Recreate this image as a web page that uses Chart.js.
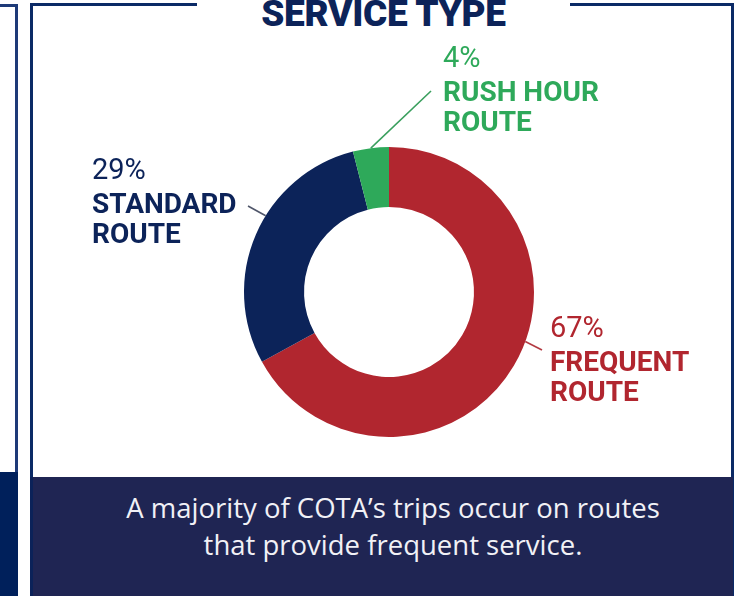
<!DOCTYPE html>
<html>
<head>
<meta charset="utf-8">
<script src="https://cdn.jsdelivr.net/npm/chart.js@4"></script>
<style>
  html, body { margin: 0; padding: 0; background: #fff; }
  #page { position: relative; width: 749px; height: 596px; overflow: hidden; background: #fff; }
  .line { position: absolute; background: #0b2a66; }
  #title {
    position: absolute; left: 197px; width: 373px; top: -8px; text-align: center;
    font-family: Roboto, sans-serif; font-weight: 900; font-size: 37px; color: #0c2359;
    letter-spacing: -0.3px;
  }
  #banner { position: absolute; left: 32px; top: 477px; width: 701px; height: 119px; background: #1f2553; }
  #caption {
    position: absolute; left: 32px; width: 722px; top: 489px; text-align: center;
    font-family: "Open Sans", sans-serif; font-size: 27.5px; line-height: 37px; color: #f1f1f6;
  }
  canvas { position: absolute; left: 0; top: 0; }
</style>
</head>
<body>
<div id="page">
  <!-- left neighbouring panel -->
  <div class="line" style="left:0;top:4px;width:17px;height:3px;background:#1e3a78"></div>
  <div class="line" style="left:15px;top:4px;width:3px;height:470px;background:#1e3a78"></div>
  <div class="line" style="left:0;top:472px;width:18px;height:124px;background:#00205b"></div>
  <!-- main panel frame -->
  <div class="line" style="left:30px;top:3px;width:167px;height:3px"></div>
  <div class="line" style="left:570px;top:3px;width:164px;height:3px"></div>
  <div class="line" style="left:30px;top:3px;width:3px;height:593px"></div>
  <div class="line" style="left:731px;top:3px;width:3px;height:593px"></div>
  <div id="banner"></div>
  <div class="line" style="left:30px;top:477px;width:3px;height:119px;background:#0b2259"></div>
  <div id="title">SERVICE TYPE</div>
  <div id="caption">A majority of COTA’s trips occur on routes<br>that provide frequent service.</div>
  <canvas id="donut" width="749" height="596"></canvas>
</div>
<script>
// service type shares (percent of trips)
const categories = ['FREQUENT ROUTE', 'STANDARD ROUTE', 'RUSH HOUR ROUTE'];
const shares = [67, 29, 4];
const sliceColours = ['#b1262f', '#0c2359', '#2ea95a'];

// label blocks next to each slice: text position, and where the leader line meets the arc
const labelLayout = [
  { x: 550, y: 337, lines: ['FREQUENT', 'ROUTE'], at: 0.456, end: [542, 350], lineColour: '#b33a42' },
  { x: 92, y: 179, lines: ['STANDARD', 'ROUTE'], at: 0.58, end: [248, 206], lineColour: '#50566a' },
  { x: 443, y: 67, lines: ['RUSH HOUR', 'ROUTE'], at: 0.5, end: [431, 91], lineColour: '#3a9f5e' }
];

const calloutPlugin = {
  id: 'callouts',
  afterDraw(chart) {
    const ctx = chart.ctx;
    const arcs = chart.getDatasetMeta(0).data;
    arcs.forEach((arc, i) => {
      const p = arc.getProps(['x', 'y', 'startAngle', 'endAngle', 'outerRadius'], true);
      const cfg = labelLayout[i];
      const a = p.startAngle + cfg.at * (p.endAngle - p.startAngle);
      const ax = p.x + Math.cos(a) * p.outerRadius;
      const ay = p.y + Math.sin(a) * p.outerRadius;

      ctx.save();
      ctx.strokeStyle = cfg.lineColour;
      ctx.lineWidth = 1.6;
      ctx.beginPath();
      ctx.moveTo(ax, ay);
      ctx.lineTo(cfg.end[0], cfg.end[1]);
      ctx.stroke();

      ctx.fillStyle = sliceColours[i];
      ctx.textBaseline = 'alphabetic';
      ctx.font = '400 29px Roboto, sans-serif';
      ctx.fillText(shares[i] + '%', cfg.x, cfg.y);
      ctx.font = '700 28px Roboto, sans-serif';
      cfg.lines.forEach((t, k) => ctx.fillText(t, cfg.x, cfg.y + 34 + k * 30));
      ctx.restore();
    });
  }
};

new Chart(document.getElementById('donut'), {
  type: 'doughnut',
  data: {
    labels: categories,
    datasets: [{
      data: shares,
      backgroundColor: sliceColours,
      borderWidth: 0,
      hoverOffset: 0
    }]
  },
  options: {
    responsive: false,
    animation: false,
    cutout: '58.6%',
    rotation: 0,
    layout: { padding: { left: 244, right: 215, top: 147, bottom: 159 } },
    plugins: { legend: { display: false }, tooltip: { enabled: false } }
  },
  plugins: [calloutPlugin]
});
</script>
</body>
</html>
